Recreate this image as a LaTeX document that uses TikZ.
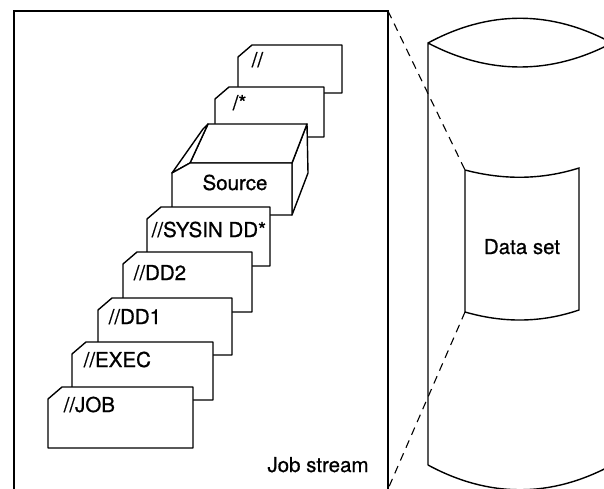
\documentclass[tikz,border=0pt]{standalone}
\usepackage{fontspec}
\setmainfont{TeX Gyre Heros}[FakeBold=0.7]
\usetikzlibrary{positioning}
% one punched card: left, top, right, bottom
\newcommand{\jclcard}[4]{\draw[cardline] (#1,#4) -- (#1,#2+12) -- (#1+14,#2) -- (#3,#2) -- (#3,#4) -- cycle;}

\begin{document}
\begin{tikzpicture}[x=1pt, y=-1pt, line width=1.4pt,
    cardline/.style={draw, fill=white, line join=round},
    jcltext/.style={font=\fontsize{20.5}{24}\selectfont, inner sep=0pt}]
        \useasboundingbox (0,0) rectangle (604,489);
        \clip (0,0) rectangle (604,489);

        % job stream frame, open at the foot
        \coordinate (frame-ne) at (388,11);
        \coordinate (frame-se) at (388,489);
        \draw[line width=1.2pt] (14,492) -- (14,11) -- (frame-ne) -- (388,492);

        % cards, back to front
        \jclcard{238}{45}{342}{93}
        \node[jcltext, anchor=base west] (jobend) at (251,67) {//};
        \jclcard{215}{87}{324}{137}
        \node[jcltext, anchor=base west] (delim) at (232,110) {/*};

        % source deck
        \draw[cardline] (292,163) -- (307,124) -- (308,173) -- (292,215) -- cycle;
        \draw[cardline] (190,163) -- (208,124) -- (307,124) -- (292,163) -- cycle;
        \draw[cardline] (172,173) -- (203,129) -- (208,124) -- (190,163) -- cycle;
        \draw[cardline] (172,215) -- (172,173) -- (190,163) -- (292,163) -- (292,215) -- cycle;
        \node[jcltext, anchor=base] (source) at (235,190) {Source};

        \jclcard{147}{207}{270}{266}
        \node[jcltext, anchor=base west] (sysin) at (151,237) {//SYSIN DD*};
        \jclcard{123}{252}{252}{312}
        \node[jcltext, anchor=base west] (dd2) at (133,280) {//DD2};
        \jclcard{98}{298}{232}{355}
        \node[jcltext, anchor=base west] (dd1) at (108,324) {//DD1};
        \jclcard{72}{342}{213}{400}
        \node[jcltext, anchor=base west] (exec) at (83,367) {//EXEC};
        \jclcard{48}{387}{193}{448}
        \node[jcltext, anchor=base west] (job) at (63,412) {//JOB};

        \node[jcltext, anchor=base] (jobstream) at (318,472) {Job stream};

        % disk with the data set on it
        \coordinate (drum-nw) at (428,43);
        \coordinate (drum-ne) at (612,43);
        \coordinate (drum-sw) at (428,465);
        \coordinate (drum-se) at (612,465);
        \draw (drum-sw) -- (drum-nw) .. controls (489,10) and (551,10) .. (drum-ne)
              .. controls (551,75) and (489,75) .. (drum-nw);
        \draw (drum-ne) -- (drum-se);
        \draw (drum-sw) .. controls (489,498) and (551,498) .. (drum-se);

        \coordinate (sheet-nw) at (465,170);
        \coordinate (sheet-ne) at (579,168);
        \coordinate (sheet-sw) at (465,312);
        \coordinate (sheet-se) at (579,310);
        \draw (sheet-nw) .. controls (503,180) and (541,180) .. (sheet-ne) -- (sheet-se)
              .. controls (541,323) and (503,323) .. (sheet-sw) -- cycle;
        \node[jcltext, anchor=base] (dataset) at (522,254) {Data set};

        % projection lines
        \draw[dashed, dash pattern=on 8pt off 6pt, line width=1.1pt] (frame-ne) -- (sheet-nw);
        \draw[dashed, dash pattern=on 8pt off 6pt, line width=1.1pt] (sheet-sw) -- (frame-se);
    \end{tikzpicture}
\end{document}
